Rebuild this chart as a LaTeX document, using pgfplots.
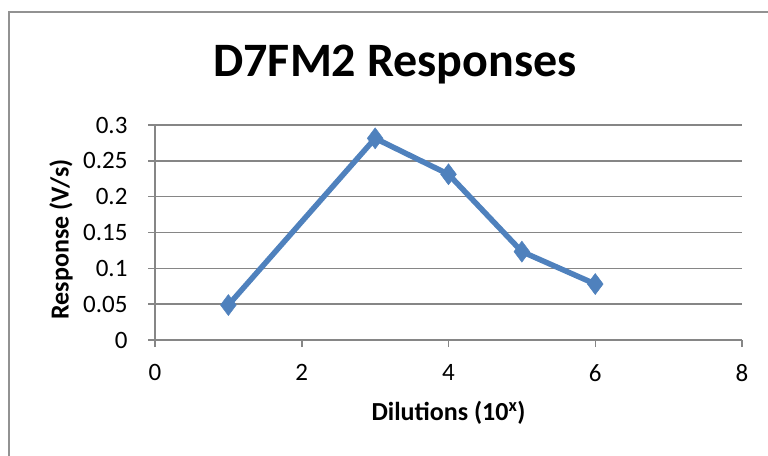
\documentclass[border=0pt]{standalone}
\usepackage{pgfplots}
\pgfplotsset{compat=1.18}
\usepackage{fontspec}
\setmainfont{Carlito}
\definecolor{seriesblue}{HTML}{4F81BD}
\definecolor{axisgray}{HTML}{868686}
\begin{document}
\begin{tikzpicture}[x=1pt,y=1pt]
  \useasboundingbox (0,0) rectangle (768,455);
  % chart area frame
  \draw[axisgray!90, line width=2pt] (9,-20) -- (9,443) -- (800,443);
  \node[font=\fontsize{48}{52}\selectfont\bfseries] at (395,390) {D7FM2 Responses};
  \begin{axis}[
    at={(155pt,115pt)}, anchor=south west,
    scale only axis, width=587pt, height=215pt,
    xmin=0, xmax=8, ymin=0, ymax=0.3,
    xtick={0,2,...,8}, ytick={0,0.05,...,0.3},
    yticklabels={0,0.05,0.1,0.15,0.2,0.25,0.3},
    axis x line*=bottom, axis y line*=left,
    axis line style={axisgray, line width=1.5pt, -},
    ymajorgrids, major grid style={axisgray, line width=1.5pt},
    tick style={axisgray, line width=1.5pt},
    tick align=outside, major tick length=7pt,
    ticklabel style={font=\fontsize{25}{28}\selectfont},
    /pgf/number format/assume math mode=true,
    xticklabel style={yshift=-14pt},
    yticklabel style={xshift=-17pt},
    xlabel={\textbf{Dilutions (10\textsuperscript{x})}},
    ylabel={\textbf{Response (V/s)}},
    label style={font=\fontsize{26}{30}\selectfont},
    xlabel style={at={(axis description cs:0.5,0)}, anchor=center, yshift=-73pt},
    % the label is already turned: yshift moves it left, xshift moves it up
    ylabel style={at={(axis description cs:0,0.5)}, anchor=center, yshift=94pt, xshift=-7pt},
    clip=false,
  ]
    \addplot[seriesblue, line width=5.5pt, mark=diamond*, mark size=10.5pt,
             mark options={fill=seriesblue, draw=seriesblue, line width=0.5pt}]
      coordinates {(1,0.0488) (3,0.2814) (4,0.2312) (5,0.1233) (6,0.0781)};
  \end{axis}
\end{tikzpicture}
\end{document}
